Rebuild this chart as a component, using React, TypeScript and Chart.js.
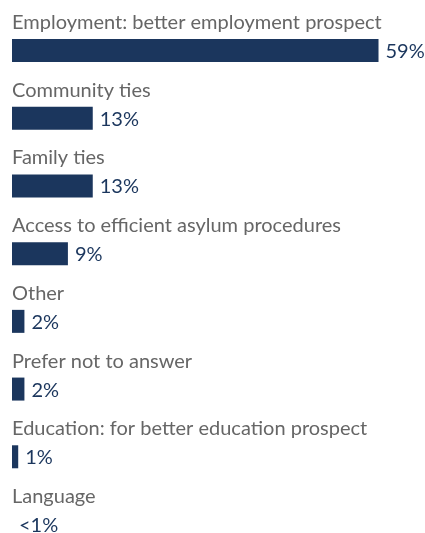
import React, { useEffect, useRef } from "react";
import { Chart, registerables } from "chart.js";

Chart.register(...registerables);

const categories: string[] = [
  "Employment: better employment prospect",
  "Community ties",
  "Family ties",
  "Access to efficient asylum procedures",
  "Other",
  "Prefer not to answer",
  "Education: for better education prospect",
  "Language",
];
const values: number[] = [59, 13, 13, 9, 2, 2, 1, 0];
const valueLabels: string[] = ["59%", "13%", "13%", "9%", "2%", "2%", "1%", "<1%"];

const BAR_COLOR = "#1b365d";
const LABEL_COLOR = "#666666";
const FONT_FAMILY = "Lato, 'Open Sans', sans-serif";

const labelPlugin = {
  id: "rowLabels",
  afterDatasetsDraw(chart: any) {
    const ctx = chart.ctx;
    const meta = chart.getDatasetMeta(0);
    const left = chart.chartArea.left;
    ctx.save();
    meta.data.forEach((bar: any, i: number) => {
      const top = bar.y - bar.height / 2;
      ctx.font = `20px ${FONT_FAMILY}`;
      ctx.fillStyle = LABEL_COLOR;
      ctx.textAlign = "left";
      ctx.textBaseline = "alphabetic";
      ctx.fillText(categories[i], left, top - 10);
      ctx.font = `20px ${FONT_FAMILY}`;
      ctx.fillStyle = BAR_COLOR;
      ctx.textBaseline = "middle";
      ctx.fillText(valueLabels[i], bar.x + 7, bar.y + 1);
    });
    ctx.restore();
  },
};

export default function App() {
  const ref = useRef<HTMLCanvasElement | null>(null);
  useEffect(() => {
    if (!ref.current) return;
    const chart = new Chart(ref.current, {
      type: "bar",
      data: {
        labels: categories,
        datasets: [
          {
            data: values,
            backgroundColor: BAR_COLOR,
            barThickness: 23,
            inflateAmount: 0,
            clip: false as any,
          } as any,
        ],
      },
      options: {
        indexAxis: "y",
        animation: false,
        responsive: false,
        maintainAspectRatio: false,
        events: [],
        layout: { padding: { left: 12, right: 3, top: 50.5, bottom: 8.5 } },
        plugins: { legend: { display: false }, tooltip: { enabled: false } },
        scales: {
          x: { display: false, min: 0, max: 66 },
          y: { display: false, offset: false },
        },
      },
      plugins: [labelPlugin],
    });
    return () => chart.destroy();
  }, []);
  return (
    <div style={{ position: "absolute", left: 0, top: 0, width: 425, height: 533, background: "#fff" }}>
      <canvas ref={ref} width={425} height={533} style={{ width: 425, height: 533 }} />
    </div>
  );
}
